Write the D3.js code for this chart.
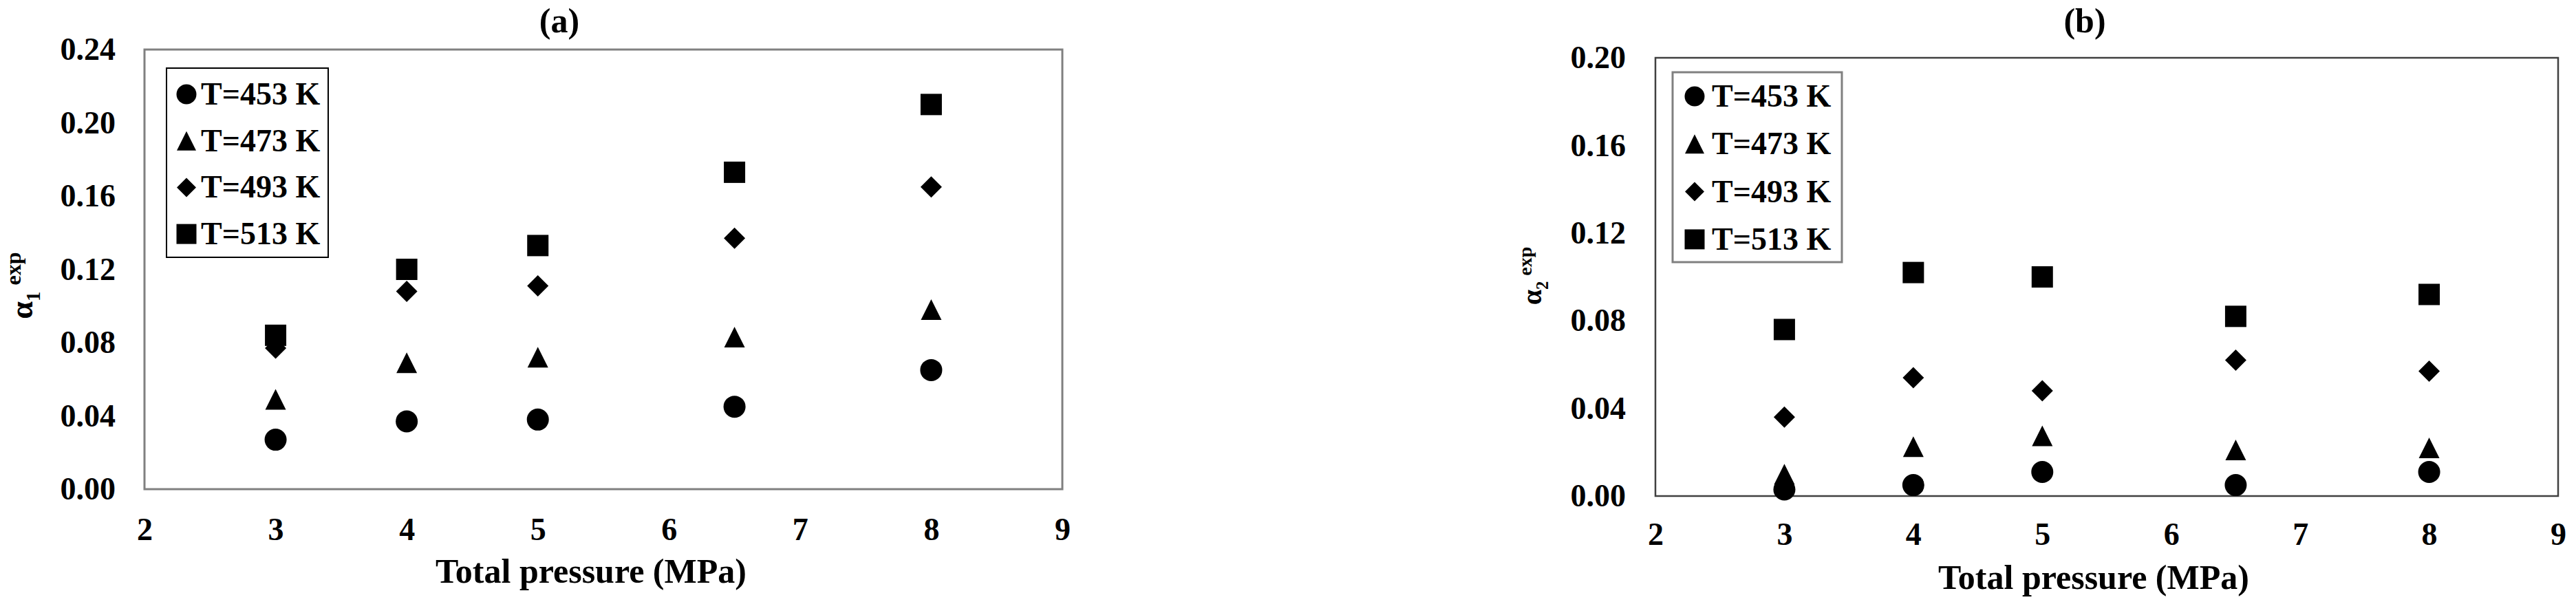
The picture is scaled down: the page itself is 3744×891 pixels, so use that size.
<!DOCTYPE html>
<html>
<head>
<meta charset="utf-8">
<script src="https://cdn.jsdelivr.net/npm/d3@7/dist/d3.min.js"></script>
<style>
  html, body { margin: 0; padding: 0; background: #fff; }
  svg { display: block; }
  text { font-family: "Liberation Serif", "Times New Roman", serif; font-weight: bold; fill: #000; }
</style>
</head>
<body>
<svg id="chart" width="3744" height="891"></svg>
<script>
// ---------------- DATA ----------------
const pressure = [3, 4, 5, 6.5, 8];            // Total pressure (MPa)
const seriesNames = ["T=453 K", "T=473 K", "T=493 K", "T=513 K"];
const xTicks = [2, 3, 4, 5, 6, 7, 8, 9];
const yTicksA = [0.00, 0.04, 0.08, 0.12, 0.16, 0.20, 0.24];
const yTicksB = [0.00, 0.04, 0.08, 0.12, 0.16, 0.20];

// panel (a): alpha1 exp
const a1_453 = [0.027, 0.037, 0.038, 0.045, 0.065];
const a1_473 = [0.049, 0.069, 0.072, 0.083, 0.098];
const a1_493 = [0.077, 0.108, 0.111, 0.137, 0.165];
const a1_513 = [0.084, 0.120, 0.133, 0.173, 0.210];

// panel (b): alpha2 exp
const a2_453 = [0.003, 0.005, 0.011, 0.005, 0.011];
const a2_473 = [0.010, 0.0225, 0.0275, 0.021, 0.022];
const a2_493 = [0.036, 0.054, 0.048, 0.062, 0.057];
const a2_513 = [0.076, 0.102, 0.100, 0.082, 0.092];

// ---------------- SYMBOLS ----------------
const symTriangle = { draw(ctx, size) { const h = Math.sqrt(size) / 2; ctx.moveTo(0, -h); ctx.lineTo(h, h); ctx.lineTo(-h, h); ctx.closePath(); } };
const symDiamond = { draw(ctx, size) { const h = Math.sqrt(size) / 2; ctx.moveTo(0, -h); ctx.lineTo(h, 0); ctx.lineTo(0, h); ctx.lineTo(-h, 0); ctx.closePath(); } };
const symCircle = { draw(ctx, size) { const r = Math.sqrt(size) / 2; ctx.moveTo(r, 0); ctx.arc(0, 0, r, 0, 2 * Math.PI); ctx.closePath(); } };
const symSquare = { draw(ctx, size) { const h = Math.sqrt(size) / 2; ctx.rect(-h, -h, 2 * h, 2 * h); } };
const symbolTypes = [symCircle, symTriangle, symDiamond, symSquare];
const dataSizes = [32, 30, 31, 31];     // marker extents (px)
const legendSizes = [29, 28, 28, 29];

const svg = d3.select("#chart");

function drawPanel(cfg) {
  const x = d3.scaleLinear().domain([2, 9]).range([cfg.left, cfg.right]);
  const y = d3.scaleLinear().domain([0, cfg.yMax]).range([cfg.bottom, cfg.top]);
  const g = svg.append("g");

  // frame
  g.append("rect")
    .attr("x", cfg.left).attr("y", cfg.top)
    .attr("width", cfg.right - cfg.left).attr("height", cfg.bottom - cfg.top)
    .attr("fill", "none").attr("stroke", cfg.frameColor).attr("stroke-width", cfg.frameWidth);

  // axes
  const yAxis = d3.axisLeft(y).tickValues(cfg.yTicks).tickFormat(d3.format(".2f"))
    .tickSizeInner(0).tickSizeOuter(0).tickPadding(cfg.yPad);
  const ya = g.append("g").attr("transform", `translate(${cfg.left},0)`).call(yAxis);
  ya.select(".domain").remove();
  ya.selectAll("text").attr("font-size", 46).attr("font-family", "Liberation Serif").attr("font-weight", "bold").attr("fill", "#000");

  const xAxis = d3.axisBottom(x).tickValues(xTicks).tickFormat(d3.format("d"))
    .tickSizeInner(0).tickSizeOuter(0).tickPadding(cfg.xPad);
  const xa = g.append("g").attr("transform", `translate(0,${cfg.bottom})`).call(xAxis);
  xa.select(".domain").remove();
  xa.selectAll("text").attr("font-size", 46).attr("font-family", "Liberation Serif").attr("font-weight", "bold").attr("fill", "#000");

  // markers
  cfg.series.forEach((vals, i) => {
    const sym = d3.symbol().type(symbolTypes[i]).size(dataSizes[i] * dataSizes[i]);
    g.append("g").selectAll("path")
      .data(pressure.map((p, j) => ({ p, v: vals[j] })))
      .join("path")
      .attr("d", sym)
      .attr("transform", d => `translate(${x(d.p)},${y(d.v)})`)
      .attr("fill", "#000");
  });

  // legend
  const lg = g.append("g");
  lg.append("rect")
    .attr("x", cfg.legX).attr("y", cfg.legY).attr("width", cfg.legW).attr("height", cfg.legH)
    .attr("fill", "#fff").attr("stroke", cfg.legColor).attr("stroke-width", cfg.legStroke);
  seriesNames.forEach((name, i) => {
    const cy = cfg.legRow0 + i * cfg.legRowStep;
    lg.append("path")
      .attr("d", d3.symbol().type(symbolTypes[i]).size(legendSizes[i] * legendSizes[i]))
      .attr("transform", `translate(${cfg.legSymX},${cy})`)
      .attr("fill", "#000");
    lg.append("text")
      .attr("x", cfg.legTextX).attr("y", cy + 15)
      .attr("font-size", 46)
      .text(name);
  });

  // title
  g.append("text").attr("x", cfg.titleX).attr("y", 47).attr("text-anchor", "middle")
    .attr("font-size", 50).text(cfg.title);

  // x-axis title
  g.append("text").attr("x", cfg.xTitleX).attr("y", cfg.xTitleY).attr("text-anchor", "middle")
    .attr("font-size", 50).text("Total pressure (MPa)");

  // y-axis title
  const yt = g.append("text")
    .attr("transform", `translate(${cfg.yTitleX},${cfg.yTitleY}) rotate(-90)`)
    .attr("text-anchor", "middle");
  yt.append("tspan").attr("font-size", cfg.yTitleSize).text("α");
  yt.append("tspan").attr("font-size", cfg.yTitleSize * 0.62).attr("dy", cfg.yTitleSize * 0.24).text(cfg.sub);
  yt.append("tspan").attr("font-size", cfg.yTitleSize * 0.7).attr("dx", cfg.yTitleSize * 0.2).attr("dy", -cfg.yTitleSize * 0.6).text("exp");
}

drawPanel({
  left: 210, right: 1544, top: 72, bottom: 711, yMax: 0.24, yTicks: yTicksA,
  yPad: 42, xPad: 41,
  frameColor: "#808080", frameWidth: 3,
  series: [a1_453, a1_473, a1_493, a1_513],
  legX: 242, legY: 99, legW: 235, legH: 275, legColor: "#000", legStroke: 2,
  legRow0: 137, legRowStep: 67.7, legSymX: 271, legTextX: 292,
  title: "(a)", titleX: 813,
  xTitleX: 859, xTitleY: 847,
  yTitleX: 47, yTitleY: 415, yTitleSize: 46, sub: "1"
});

drawPanel({
  left: 2406, right: 3718, top: 84, bottom: 721, yMax: 0.20, yTicks: yTicksB,
  yPad: 43, xPad: 38,
  frameColor: "#404040", frameWidth: 2.5,
  series: [a2_453, a2_473, a2_493, a2_513],
  legX: 2431, legY: 105, legW: 246, legH: 276, legColor: "#808080", legStroke: 3,
  legRow0: 140, legRowStep: 69.3, legSymX: 2463, legTextX: 2488,
  title: "(b)", titleX: 3030,
  xTitleX: 3043, xTitleY: 856,
  yTitleX: 2240, yTitleY: 401, yTitleSize: 40, sub: "2"
});
</script>
</body>
</html>
